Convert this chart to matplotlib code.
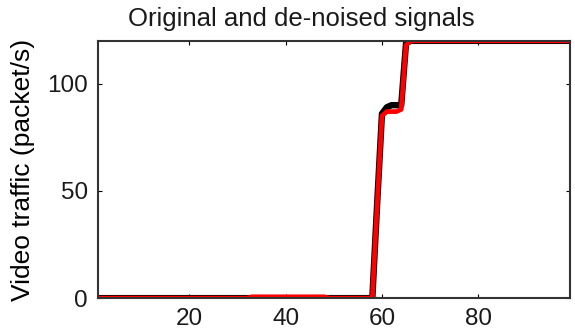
import numpy as np
import matplotlib.pyplot as plt

plt.rcParams['font.family'] = ['Liberation Sans', 'DejaVu Sans']

# traffic samples, packet/s per time step (1..99)
original = ([0.0] * 58
            + [44, 86, 89, 90, 90, 90, 119]
            + [120.0] * 34)
denoised = ([0.0] * 32
            + [0.6] * 16
            + [0.0] * 10
            + [43, 85, 87, 87, 87, 88, 118]
            + [120.0] * 34)
xticks = [20, 40, 60, 80]
yticks = [0, 50, 100]

t = np.arange(1, len(original) + 1)

fig = plt.figure(figsize=(5.75, 3.32), dpi=100)
ax = fig.add_axes([0.170, 0.102, 0.821, 0.775])

ax.plot(t, original, color='black', lw=4.6, solid_capstyle='butt')
ax.plot(t, denoised, color='red', lw=3.4, solid_capstyle='butt')

ax.set_xlim(1, 99)
ax.set_ylim(0, 120)
ax.set_xticks(xticks)
ax.set_yticks(yticks)
ax.tick_params(direction='in', length=3, width=0.8, top=True, right=True,
               labelsize=17.5, pad=7, labelcolor='#1a1a1a')
for s in ax.spines.values():
    s.set_linewidth(1.5)
    s.set_color('#333333')

ax.set_title('Original and de-noised signals', fontsize=18.5, pad=11,
             color='#1a1a1a', x=0.432)
ax.set_ylabel('Video traffic (packet/s)', fontsize=19)
ax.yaxis.set_label_coords(-0.133, 0.5)

fig.savefig('out.png', dpi=100)
